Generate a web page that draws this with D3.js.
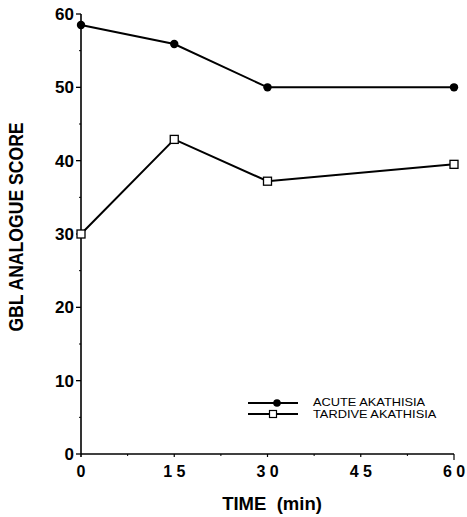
<!DOCTYPE html>
<html>
<head>
<meta charset="utf-8">
<script src="https://cdn.jsdelivr.net/npm/d3@7"></script>
<style>
  html, body { margin: 0; padding: 0; background: #fff; }
  svg { display: block; }
  text { font-family: "Liberation Sans", Arial, Helvetica, sans-serif; fill: #000; }
</style>
</head>
<body>
<script>
// Time points (min) and GBL analogue scores per group
const times = [0, 15, 30, 60];
const acuteScores = [58.5, 55.9, 50.0, 50.0];
const tardiveScores = [30.0, 42.9, 37.2, 39.5];
const seriesNames = ["ACUTE AKATHISIA", "TARDIVE AKATHISIA"];
const xTickValues = [0, 15, 30, 45, 60];
const xTickLabels = ["0", "1 5", "3 0", "4 5", "6 0"];
const yTickValues = [0, 10, 20, 30, 40, 50, 60];

const width = 467, height = 517;
const svg = d3.select("body").append("svg")
  .attr("width", width).attr("height", height);

const x = d3.scaleLinear().domain([0, 60]).range([81, 454]);
const y = d3.scaleLinear().domain([0, 60]).range([454, 14]);

// Y axis: major ticks every 10, minor every 5
const yAxis = svg.append("g").attr("transform", `translate(${x(0)},0)`);
yAxis.append("line")
  .attr("x1", 0).attr("x2", 0).attr("y1", y(60)).attr("y2", y(0) + 3)
  .attr("stroke", "#000").attr("stroke-width", 1.6);
yAxis.selectAll("line.minor").data(d3.range(5, 60, 10)).enter().append("line")
  .attr("class", "minor")
  .attr("x1", -2).attr("x2", 0).attr("y1", d => y(d)).attr("y2", d => y(d))
  .attr("stroke", "#000").attr("stroke-width", 1);
yAxis.selectAll("line.major").data(yTickValues).enter().append("line")
  .attr("class", "major")
  .attr("x1", -5).attr("x2", 0).attr("y1", d => y(d)).attr("y2", d => y(d))
  .attr("stroke", "#000").attr("stroke-width", 1.3);
yAxis.selectAll("text").data(yTickValues).enter().append("text")
  .attr("x", -7).attr("y", d => y(d)).attr("dy", "0.36em")
  .attr("text-anchor", "end")
  .style("font-size", "17px").style("font-weight", "bold")
  .text(d => d);

// X axis: major ticks every 15, minor every 7.5
const xAxis = svg.append("g").attr("transform", `translate(0,${y(0)})`);
xAxis.append("line")
  .attr("x1", x(0)).attr("x2", x(60)).attr("y1", 0).attr("y2", 0)
  .attr("stroke", "#000").attr("stroke-width", 1.6);
xAxis.selectAll("line.minor").data([7.5, 22.5, 37.5, 52.5]).enter().append("line")
  .attr("class", "minor")
  .attr("x1", d => x(d)).attr("x2", d => x(d)).attr("y1", 0).attr("y2", 2)
  .attr("stroke", "#000").attr("stroke-width", 1);
xAxis.selectAll("line.major").data(xTickValues.slice(1)).enter().append("line")
  .attr("class", "major")
  .attr("x1", d => x(d)).attr("x2", d => x(d)).attr("y1", 0).attr("y2", d => d === 60 ? 6 : 3)
  .attr("stroke", "#000").attr("stroke-width", 1.2);
xAxis.selectAll("text").data(xTickValues).enter().append("text")
  .attr("x", (d, i) => x(d)).attr("y", 23)
  .attr("text-anchor", "middle")
  .style("font-size", "16px").style("font-weight", "bold")
  .text((d, i) => xTickLabels[i]);

// Axis titles
svg.append("text")
  .attr("transform", `translate(23,227) rotate(-90) scale(0.88,1)`)
  .attr("text-anchor", "middle")
  .style("font-size", "20px").style("font-weight", "bold")
  .text("GBL ANALOGUE SCORE");
svg.append("text")
  .attr("x", 272).attr("y", 510)
  .attr("text-anchor", "middle")
  .style("font-size", "18.5px").style("font-weight", "bold")
  .attr("xml:space", "preserve")
  .style("white-space", "pre")
  .text("TIME  (min)");

// Series lines and markers
const line = d3.line().x((d, i) => x(times[i])).y(d => y(d));

svg.append("path").datum(acuteScores)
  .attr("d", line).attr("fill", "none")
  .attr("stroke", "#000").attr("stroke-width", 2);
svg.append("path").datum(tardiveScores)
  .attr("d", line).attr("fill", "none")
  .attr("stroke", "#000").attr("stroke-width", 2);

svg.selectAll("circle.acute").data(acuteScores).enter().append("circle")
  .attr("class", "acute")
  .attr("cx", (d, i) => x(times[i])).attr("cy", d => y(d)).attr("r", 4.2)
  .attr("fill", "#000");

const sq = 8;
svg.selectAll("rect.tardive").data(tardiveScores).enter().append("rect")
  .attr("class", "tardive")
  .attr("x", (d, i) => x(times[i]) - sq / 2).attr("y", d => y(d) - sq / 2)
  .attr("width", sq).attr("height", sq)
  .attr("fill", "#fff").attr("stroke", "#000").attr("stroke-width", 1.3);

// Legend
const legend = svg.append("g");
const legendRows = [
  { name: seriesNames[0], y: 403, ty: 402, mx: 277, marker: "circle" },
  { name: seriesNames[1], y: 414, ty: 414.5, mx: 273, marker: "square" }
];
legendRows.forEach(r => {
  legend.append("line")
    .attr("x1", 248).attr("x2", 298).attr("y1", r.y).attr("y2", r.y)
    .attr("stroke", "#000").attr("stroke-width", 2);
  if (r.marker === "circle") {
    legend.append("circle").attr("cx", r.mx).attr("cy", r.y).attr("r", 3.8).attr("fill", "#000");
  } else {
    legend.append("rect").attr("x", r.mx - 3.5).attr("y", r.y - 3.5)
      .attr("width", 7).attr("height", 7)
      .attr("fill", "#fff").attr("stroke", "#000").attr("stroke-width", 1.2);
  }
  legend.append("text")
    .attr("transform", `translate(313,${r.ty}) scale(1.22,1)`)
    .attr("dy", "0.36em")
    .style("font-size", "10.5px")
    .text(r.name);
});
</script>
</body>
</html>
